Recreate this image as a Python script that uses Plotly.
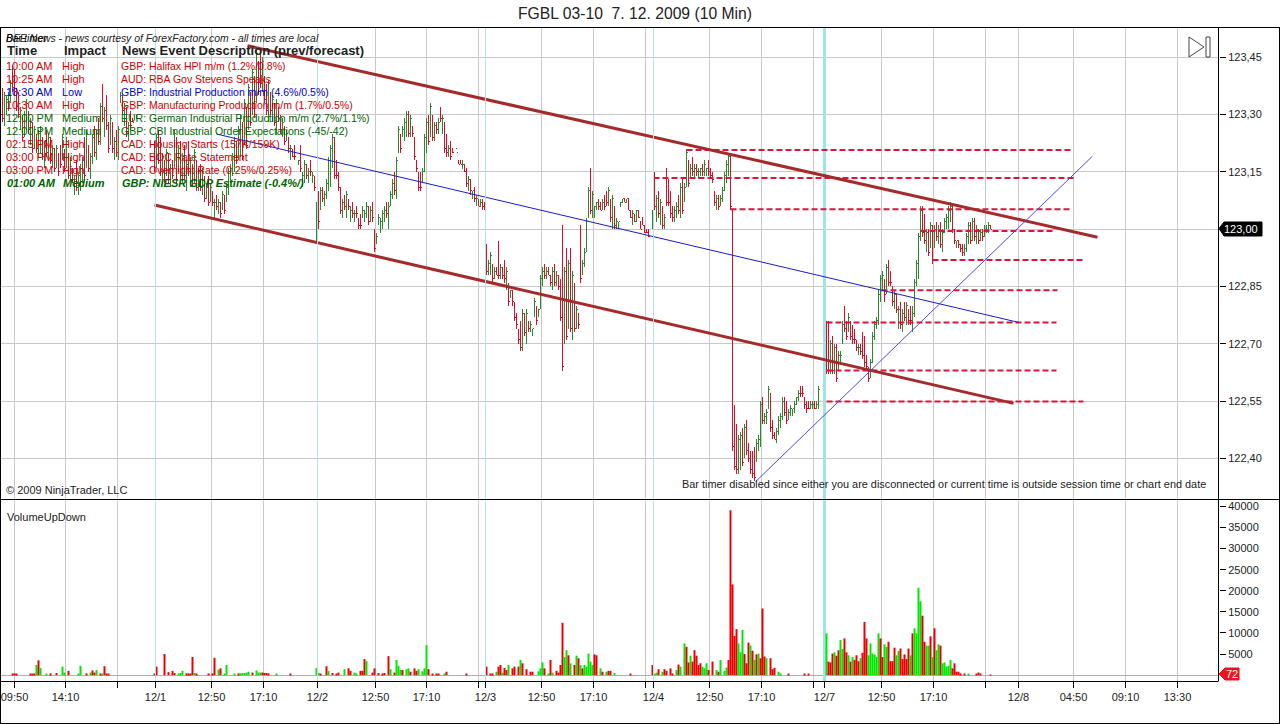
import plotly.graph_objects as go

TITLE = "FGBL 03-10\u00a0\u00a07. 12. 2009 (10 Min)"
BASE_PRICE = 122.0  # bar values are hundredths above this price

opens = [
133,134,132,131,133,134,142,140,135,134,
127,129,125,127,130,123,127,122,124,120,
121,123,117,125,119,123,117,121,117,119,
121,119,120,117,119,114,115,110,117,110,
111,113,123,117,121,114,118,126,119,128,
123,137,125,134,127,123,127,119,125,119,
134,134,128,131,124,130,129,None,129,None,
None,None,None,None,None,None,None,122,117,125,
123,114,117,115,119,112,117,117,123,116,
122,113,121,111,122,112,116,113,117,111,
116,110,113,109,113,108,109,104,108,105,
106,106,108,108,110,113,115,116,122,119,
120,127,123,131,127,135,131,139,134,143,
145,137,139,137,129,135,129,132,126,131,
129,125,126,124,123,119,120,121,None,117,
121,112,113,116,113,117,113,113,98,109,
106,110,107,109,111,112,117,123,117,114,
110,104,108,104,107,103,106,103,105,102,
103,104,103,104,105,103,106,99,97,102,
100,101,103,106,101,107,109,114,109,121,
124,125,124,125,130,125,126,123,117,114,
114,113,116,121,129,125,129,124,127,126,
131,126,127,124,120,122,121,None,121,118,
118,116,117,115,111,112,109,110,107,107,
106,107,106,95,89,89,90,88,89,96,
88,89,91,85,85,83,83,80,77,73,
75,69,77,71,75,74,73,78,79,78,
80,86,90,88,89,87,85,90,86,87,
86,100,71,94,75,94,72,85,75,77,
100,89,91,95,104,115,104,105,106,107,
106,106,108,109,107,107,101,105,101,101,
106,107,108,107,108,105,102,103,103,104,
102,103,101,100,99,None,101,114,103,109,
102,105,101,115,112,109,105,103,104,108,
104,112,108,112,117,114,118,114,116,114,
115,116,115,115,117,115,114,109,106,108,
107,108,111,113,115,119,105,53,48,37,
38,47,41,49,43,41,41,42,40,43,
44,55,50,50,54,56,49,46,45,47,
49,51,55,54,51,52,52,53,55,56,
58,58,55,54,54,53,53,54,53,54,
None,None,None,75,75,63,71,63,69,64,
66,71,79,75,74,75,74,73,70,68,
69,72,71,66,63,62,66,72,75,76,
82,85,85,84,91,88,84,80,82,75,
80,74,80,76,78,79,74,78,86,88,
98,105,103,95,99,96,100,96,101,97,
101,95,100,101,101,103,105,99,96,97,
96,95,94,95,97,101,98,102,97,99,
98,99,99,99,100,101]

highs = [
136,137,136,135,136,139,143,142,137,136,
132,130,131,134,131,129,128,127,125,126,
127,124,123,126,125,124,122,121,122,120,
122,125,121,124,120,119,116,114,118,115,
117,119,124,126,122,120,125,127,126,129,
133,138,132,135,128,130,128,124,126,127,
136,135,133,132,128,131,129,None,130,None,
None,None,None,None,None,None,None,123,125,126,
124,120,118,121,120,117,118,126,124,122,
123,120,122,118,123,119,117,121,118,116,
117,116,114,112,114,112,110,108,109,108,
107,110,109,112,116,117,120,124,123,127,
130,128,134,132,138,136,142,140,147,144,
146,145,140,138,139,136,135,133,134,132,
130,129,127,126,124,122,121,122,None,118,
122,115,118,117,116,118,115,114,107,110,
111,111,110,113,119,122,125,124,118,115,
111,108,109,110,108,106,107,105,106,103,
104,106,105,107,106,106,107,100,99,104,
103,105,106,107,107,110,113,115,119,127,
125,127,129,131,131,130,127,124,118,115,
115,116,125,129,130,133,130,128,128,129,
132,130,128,125,122,123,121,None,120,118,
118,118,117,116,114,113,110,111,109,108,
108,108,107,96,92,94,91,90,90,97,
91,90,92,90,86,84,84,81,78,74,
76,79,78,79,76,76,74,82,80,79,
88,90,91,90,90,88,90,91,89,88,
87,101,90,95,92,95,89,86,80,78,
101,92,95,103,111,116,110,106,107,108,
107,108,109,110,111,108,109,106,103,102,
107,108,108,108,108,105,105,104,105,105,
102,103,101,100,100,None,105,115,109,110,
108,106,104,116,113,110,106,106,107,109,
112,113,112,121,118,117,119,117,117,116,
116,117,118,116,118,116,115,110,109,109,
109,111,115,118,120,120,105,54,49,46,
47,48,49,50,44,42,42,43,45,46,
55,56,52,53,59,57,50,47,48,51,
52,56,56,55,53,54,53,55,56,58,
59,59,56,55,55,55,55,55,55,59,
None,None,None,76,76,71,72,70,70,68,
68,76,80,76,78,76,75,74,71,70,
70,73,72,67,64,66,73,76,77,84,
88,89,87,91,92,89,85,84,83,80,
81,79,81,81,79,80,80,87,92,99,
106,106,104,100,100,102,101,101,102,101,
102,100,103,104,106,107,106,100,97,97,
96,96,96,99,102,102,103,103,101,100,
100,100,101,101,102,101]

lows = [
129,128,127,130,131,133,136,135,131,129,
126,123,124,126,125,122,120,121,120,119,
120,118,116,119,118,117,116,115,116,114,
116,118,115,116,113,113,112,109,110,109,
110,112,113,116,115,113,117,119,118,122,
122,128,124,126,120,122,120,118,119,118,
133,130,127,124,123,126,128,None,129,None,
None,None,None,None,None,None,None,115,116,117,
114,113,112,114,112,111,113,116,112,115,
113,112,113,110,114,111,111,112,110,110,
110,109,107,108,106,107,106,103,105,104,
103,105,104,107,109,112,114,115,117,118,
119,118,122,121,126,127,130,129,133,135,
137,136,133,130,128,130,128,127,125,128,
125,124,122,123,120,118,119,118,None,117,
115,111,112,113,112,114,112,110,97,100,
105,107,106,108,110,111,116,113,113,110,
104,103,105,103,105,102,103,102,103,100,
100,103,102,103,101,102,102,94,96,101,
99,100,102,103,100,106,108,109,108,120,
120,124,123,124,124,124,124,118,115,110,
110,112,115,120,122,124,123,123,125,125,
128,125,120,119,119,118,120,None,120,117,
117,116,115,111,110,109,108,107,106,106,
106,105,105,88,88,88,86,87,88,87,
87,87,86,84,80,82,80,76,74,70,
68,68,72,70,73,73,72,77,75,77,
79,85,87,87,88,85,84,85,85,84,
76,63,70,71,74,73,71,73,74,74,
86,88,90,94,103,104,103,103,105,105,
105,105,105,106,106,102,100,100,100,100,
106,107,107,107,105,103,101,102,102,103,
100,101,99,99,98,None,100,105,102,103,
101,100,100,106,106,103,102,102,103,104,
103,104,107,111,111,113,114,113,114,113,
114,114,114,114,114,113,112,106,105,105,
106,107,110,112,114,105,42,37,36,36,
37,38,40,41,39,36,35,34,39,42,
43,49,49,49,53,47,45,45,44,46,
48,50,51,49,50,51,51,52,54,55,
56,56,53,52,53,53,53,53,53,53,
None,None,None,62,62,62,62,62,60,63,
65,70,73,71,73,71,70,70,68,67,
67,66,64,63,60,61,65,71,74,75,
81,84,81,83,85,85,80,79,78,74,
74,73,76,75,75,75,73,77,85,87,
97,98,96,94,93,95,91,95,97,96,
95,94,99,100,100,102,99,96,95,95,
94,93,93,94,96,96,97,97,96,96,
97,97,98,99,99,100]

closes = [
130,129,135,134,135,138,137,136,132,130,
131,124,130,133,126,128,121,126,121,125,
126,119,122,120,124,118,121,116,121,115,
117,124,116,123,114,118,113,113,111,114,
116,118,114,125,116,119,124,120,125,123,
132,129,131,127,121,129,121,123,120,126,
135,131,132,125,127,127,128,None,130,None,
None,None,None,None,None,None,None,116,124,118,
115,119,113,120,113,116,114,125,113,121,
114,119,114,117,115,118,112,120,111,115,
111,115,108,111,107,111,107,107,106,107,
104,109,105,111,115,116,119,123,118,126,
129,119,133,122,137,128,141,130,146,136,
138,144,134,131,138,131,134,128,133,129,
126,128,123,125,121,121,119,119,None,118,
116,114,117,114,115,115,114,111,106,102,
110,108,109,112,118,121,124,114,114,111,
105,107,106,109,106,105,104,104,104,101,
101,105,104,106,102,105,103,95,98,103,
102,104,105,104,106,109,112,110,118,126,
121,126,128,130,125,129,125,119,116,111,
111,115,124,128,123,132,124,127,126,128,
129,129,121,120,121,119,120,None,120,117,
117,117,115,112,113,110,110,108,108,106,
107,106,105,89,91,93,87,89,88,88,
90,88,87,89,81,84,81,77,75,71,
69,78,73,78,74,75,74,81,76,79,
87,89,88,89,88,86,89,86,88,85,
77,64,89,72,91,74,88,74,79,75,
87,91,94,102,110,105,109,106,107,106,
105,107,106,107,110,103,108,101,102,102,
107,108,107,108,105,103,104,102,105,103,
100,101,99,99,98,None,104,106,108,104,
107,101,103,107,107,104,103,105,106,105,
111,105,111,120,112,116,115,116,115,115,
116,115,117,116,115,114,113,107,108,106,
108,110,114,117,119,106,43,38,37,45,
46,39,48,42,40,37,36,35,44,45,
54,50,51,52,58,48,46,45,47,50,
51,55,52,50,52,53,53,54,56,57,
57,57,54,53,53,54,54,53,54,58,
None,None,None,63,63,70,63,69,61,67,
67,75,74,72,77,72,71,71,69,69,
68,67,65,64,61,65,72,75,76,83,
87,88,83,90,86,86,81,83,79,79,
75,78,77,80,76,76,78,86,91,98,
105,99,97,99,94,101,92,100,98,100,
96,99,102,103,105,106,100,97,97,96,
95,94,95,98,101,97,102,98,100,97,
99,98,100,100,101,100]

# Volume: slot and signed hundreds of contracts (+ up, - down)
vol_slots = [
6,7,8,15,16,17,18,19,20,23,25,28,31,32,34,39,40,43,45,46,47,48,50,51,52,53,54,
77,78,82,84,86,87,89,90,91,93,94,95,96,97,98,104,106,107,109,110,112,113,117,119,
120,121,122,123,124,126,128,129,130,131,132,133,134,138,145,
158,159,160,163,164,166,168,169,172,174,175,177,178,180,181,182,183,186,187,189,
191,192,194,195,197,198,199,200,201,203,204,205,207,208,209,211,212,213,214,216,
218,219,222,223,233,
243,245,246,248,249,250,251,252,253,254,256,257,259,260,261,263,265,266,269,270,
271,272,274,275,276,278,279,280,281,282,283,284,285,287,288,289,290,291,292,293,
294,295,296,297,298,300,301,303,304,305,307,315,
326,327,328,329,331,332,333,335,336,338,339,340,342,343,344,345,346,347,348,349,
350,351,352,353,354,356,358,359,360,362,363,364,365,366,367,368,369,370,371,372,
373,374,375,376,377,378,379,380,381,382,383,385,386,387,389,390,394,402,404,
413,414,415,416,417,418,419,420,421,422,423,424,425,426,427,428,429,430,431,432,
433,434,435,436,437,438,439,440,441,442,443,444,445,446,447,448,449,450,451,452,
453,454,455,456,457,458,459,460,461,462,463,464,465,466,467,468,469,470,471,472,
473,474,475,476,477,478,479,480,482,484,488,489,490,495]
vol_hundreds = [
-3,-4,-3,-2,-2,-3,24,-35,17,2,-4,-5,20,6,-10,4,22,-4,6,-11,-6,12,-4,4,-21,-2,-2,
-2,-20,-50,-7,-10,-5,2,5,10,-4,-4,-3,-43,5,-2,-2,-4,-41,13,-16,2,24,4,-4,
4,5,5,6,8,-6,11,6,6,-6,-5,-5,-4,2,-2,
17,5,-2,-21,10,-5,-3,-6,14,-16,-10,6,4,-10,-10,-38,33,-6,-16,-5,
-4,-5,-45,14,-6,36,22,12,-12,14,16,-8,-16,-10,14,9,16,71,-14,-2,
-2,-2,2,-8,-2,
-20,-4,-4,8,-20,-24,6,-17,-12,24,-16,-20,-20,36,-28,-14,-8,-8,9,16,
30,-16,4,-36,6,-10,-6,-24,-124,43,59,-47,28,-24,46,-40,24,-16,24,20,
51,32,24,-49,-47,16,-8,8,-10,-10,5,-3,
-24,4,6,-14,8,-14,-10,-16,-4,12,-25,20,75,-67,-30,46,-32,-59,-46,-24,
-28,20,16,28,-12,-32,12,-8,36,10,18,-36,-391,-215,-93,-109,75,54,107,-50,
-28,-77,70,-58,36,-49,51,-40,-158,-44,40,-40,-14,-17,8,4,-2,-2,-2,
99,-32,-30,-51,54,-46,-59,83,62,-87,-54,47,-32,43,-36,-47,-33,40,-53,-126,
-87,47,75,51,49,43,99,-87,-43,73,67,-79,-33,-33,-65,47,57,-63,-38,-49,
-38,-63,47,-99,111,99,207,175,-141,-79,70,70,-92,43,-111,59,73,-70,28,30,
20,22,36,-16,-28,-8,-8,-4,-2,3,-2,-6,-2,-1]

tick_slots = [7,32.5,58.5,77.5,105.5,131.5,158.5,187.5,213,239,242.5,270.5,296.5,322.5,326.5,354.5,380.5,406.5,412,440.5,466.5,492.5,509,536.5,562.5,588.5]
tick_labels = ["09:50","14:10","","12/1","12:50","17:10","12/2","12:50","17:10","","12/3","12:50","17:10","","12/4","12:50","17:10","","12/7","12:50","17:10","","12/8","04:50","09:10","13:30"]
session_slots = [77.5,158.5,242.5,326.5]
monday_session_slot = [412]

price_ticks = [122.40,122.55,122.70,122.85,123.00,123.15,123.30,123.45]
# 123,00 is shown by the black last-price tag instead of a plain tick label
price_labels = ["122,40","122,55","122,70","122,85","","123,15","123,30","123,45"]
volume_ticks = [5000,10000,15000,20000,25000,30000,35000,40000]
volume_labels = ["5000","10000","15000","20000","25000","30000","35000","40000"]

upper_x, upper_y = [123.5,548.5],[123.48,122.979]
lower_x, lower_y = [77,506.5],[123.063,122.544]
mid_x, mid_y = [108,509],[123.249,122.756]
rising_x, rising_y = [377.5,546],[122.339,123.191]

level_prices = [123.207,123.134,123.052,122.995,122.919,122.84,122.756,122.63,122.549]
level_starts = [343,326.5,365,460,466,440.5,413,413,413]
level_ends = [535.5,537,536,526.5,541,528.5,528,528,541.5]

NEWS_TIMES = ["10:00 AM","10:25 AM","10:30 AM","10:30 AM","12:00 PM","12:00 PM","02:15 PM","03:00 PM","03:00 PM"]
NEWS_IMPACT = ["High","High","Low","High","Medium","Medium","High","High","High"]
NEWS_DESC = ["GBP: Halifax HPI m/m (1.2%/0.8%)","AUD: RBA Gov Stevens Speaks","GBP: Industrial Production m/m (4.6%/0.5%)",
"GBP: Manufacturing Production m/m (1.7%/0.5%)","EUR: German Industrial Production m/m (2.7%/1.1%)",
"GBP: CBI Industrial Order Expectations (-45/-42)","CAD: Housing Starts (157K/159K)","CAD: BOC Rate Statement","CAD: Overnight Rate (0.25%/0.25%)"]
IMPACT_COLORS = {"High":"#cc0000","Low":"#0000cc","Medium":"#006400"}

W, H = 1280, 724
FONT = "Liberation Sans, Arial, sans-serif"
def px(x): return x / W
def py(y): return 1 - y / H

fig = go.Figure()

slots = list(range(len(opens)))
def price(v): return [None if a is None else BASE_PRICE + a / 100 for a in v]

fig.add_trace(go.Ohlc(
    x=slots, open=price(opens), high=price(highs), low=price(lows), close=price(closes),
    tickwidth=0.5, xaxis="x", yaxis="y", hoverinfo="skip",
    increasing=dict(line=dict(color="#2f862f", width=1)),
    decreasing=dict(line=dict(color="#d0102c", width=1)),
))

for s, e, p in zip(level_starts, level_ends, level_prices):
    fig.add_trace(go.Scatter(x=[s, e], y=[p, p], mode="lines", xaxis="x", yaxis="y", hoverinfo="skip",
                             line=dict(color="#dc143c", width=2, dash="6px,3px")))

for xs, ys, c, w in [(upper_x, upper_y, "#a52a2a", 3), (lower_x, lower_y, "#a52a2a", 3),
                     (mid_x, mid_y, "#1a1ad0", 1), (rising_x, rising_y, "#4a4ae0", 1)]:
    fig.add_trace(go.Scatter(x=xs, y=ys, mode="lines", xaxis="x", yaxis="y", hoverinfo="skip",
                             line=dict(color=c, width=w)))

fig.add_trace(go.Bar(
    x=vol_slots, y=[abs(v) * 100 for v in vol_hundreds], width=1.0, xaxis="x2", yaxis="y2", hoverinfo="skip",
    marker=dict(color=["#00e800" if v > 0 else "#ee0000" for v in vol_hundreds], line=dict(width=0)),
))

XR = [-0.25, 609.25]
common_x = dict(range=XR, domain=[0, px(1219)], tickmode="array", tickvals=tick_slots,
                showgrid=True, gridcolor="#c8c8c8", gridwidth=1, zeroline=False, showline=False)
shapes = []
for s in session_slots:
    for xr, yr, a, b in [("x", "y", 122.2925, 123.529), ("x2", "y2", -1400, 41650)]:
        shapes.append(dict(type="line", xref=xr, yref=yr, x0=s, x1=s, y0=a, y1=b,
                           line=dict(color="#b4e2ea", width=1), layer="above"))
for s in monday_session_slot:
    for xr, yr, a, b in [("x", "y", 122.2925, 123.529), ("x2", "y2", -1400, 41650)]:
        shapes.append(dict(type="line", xref=xr, yref=yr, x0=s, x1=s, y0=a, y1=b,
                           line=dict(color="#a0e4ea", width=3), layer="between"))

def frame(x0, y0, x1, y1, w=1, c="black"):
    return dict(type="line", xref="paper", yref="paper", x0=px(x0), x1=px(x1), y0=py(y0), y1=py(y1),
                line=dict(color=c, width=w), layer="above")

shapes += [frame(0, 27.5, 1280, 27.5), frame(0, 499.5, 1280, 499.5), frame(0, 723.5, 1280, 723.5),
           frame(0.5, 27, 0.5, 723), frame(1279.5, 27, 1279.5, 723),
           frame(1218.5, 27, 1218.5, 681), frame(0, 681.5, 1218.5, 681.5)]

def poly(points, fill, line=None):
    path = "M " + " L ".join(f"{px(a)},{py(b)}" for a, b in points) + " Z"
    return dict(type="path", xref="paper", yref="paper", path=path, fillcolor=fill,
                line=dict(color=line or fill, width=1), layer="above")

shapes.append(poly([(1219, 228.5), (1224, 222), (1262, 222), (1262, 236), (1224, 236)], "black"))
shapes.append(poly([(1219, 674), (1225, 668), (1239, 668), (1239, 680), (1225, 680)], "#ee1122"))
# go-to-end icon
shapes.append(poly([(1189, 37), (1204, 47), (1189, 57)], "rgba(0,0,0,0)", "#444444"))
shapes.append(poly([(1206, 37), (1210, 37), (1210, 57), (1206, 57)], "rgba(0,0,0,0)", "#444444"))

ann = []
def text(x, y, s, size=11, color="black", bold=False, italic=False, anchor="left"):
    if bold: s = f"<b>{s}</b>"
    if italic: s = f"<i>{s}</i>"
    ann.append(dict(xref="paper", yref="paper", x=px(x), y=py(y), text=s, showarrow=False,
                    xanchor=anchor, yanchor="middle", font=dict(family=FONT, size=size, color=color),
                    borderpad=0, borderwidth=0))

text(634.5, 13, TITLE, size=15.7, color="#222222", anchor="center")
text(6, 38, "DFE News - news courtesy of ForexFactory.com - all times are local", size=10.4, italic=True, color="#222222")
text(6, 38, "Bar timer", size=10, italic=True)
text(7, 51, "Time", size=13, bold=True, color="#222222")
text(64, 51, "Impact", size=13, bold=True, color="#222222")
text(122, 51, "News Event Description (prev/forecast)", size=13, bold=True, color="#222222")
row_ys = [66, 79, 92, 105, 118, 131, 144, 157, 170]
for y, t, i, d in zip(row_ys, NEWS_TIMES, NEWS_IMPACT, NEWS_DESC):
    c = IMPACT_COLORS[i]
    text(6, y, t, color=c)
    text(62, y, i, color=c)
    text(121, y, d, size=10.5, color=c)
text(7, 183, "01:00 AM", color="#006400", bold=True, italic=True)
text(63, 183, "Medium", color="#006400", bold=True, italic=True)
text(122, 183, "GBP: NIESR GDP Estimate (-0.4%/)", color="#006400", bold=True, italic=True)
text(6, 490, "\u00a9 2009 NinjaTrader, LLC", color="#222222")
text(682, 484, "Bar timer disabled since either you are disconnected or current time is outside session time or chart end date", size=10.9, color="#222222")
text(7, 517, "VolumeUpDown", color="#222222")
text(1241, 229, "123,00", color="white", anchor="center")
text(1232, 674, "72", color="white", anchor="center")

fig.update_layout(
    width=W, height=H, margin=dict(l=0, r=0, t=0, b=0), autosize=False,
    paper_bgcolor="white", plot_bgcolor="white", showlegend=False,
    font=dict(family=FONT, size=11, color="#222222"), barmode="overlay",
    shapes=shapes, annotations=ann,
    xaxis=dict(**common_x, anchor="y", showticklabels=False, ticks="", rangeslider=dict(visible=False)),
    yaxis=dict(domain=[py(499.5), py(27)], range=[122.2925, 123.529], anchor="x", side="right",
               tickmode="array", tickvals=price_ticks, ticktext=price_labels, showgrid=True,
               gridcolor="#c8c8c8", ticks="outside", ticklen=6, tickcolor="black", zeroline=False,
               showline=False, tickfont=dict(size=11, color="#222222", family=FONT)),
    xaxis2=dict(**common_x, anchor="y2", ticktext=tick_labels, ticks="outside", ticklen=6, tickcolor="black",
                tickangle=0, tickfont=dict(size=11, color="#222222", family=FONT)),
    yaxis2=dict(domain=[py(681), py(499.5)], range=[-1400, 41650], anchor="x2", side="right",
                tickmode="array", tickvals=volume_ticks, ticktext=volume_labels, showgrid=False,
                ticks="outside", ticklen=6,
                tickcolor="black", zeroline=True, zerolinecolor="#b0b0b0", zerolinewidth=1, showline=False,
                tickfont=dict(size=11, color="#222222", family=FONT)),
)

fig.write_html("out.html", config={"displayModeBar": False},
               post_script="document.body.style.margin='0';document.body.style.overflow='hidden';"
                           "var s=document.createElement('style');s.textContent='.ohlc path{shape-rendering:crispEdges}';"
                           "document.head.appendChild(s);")
